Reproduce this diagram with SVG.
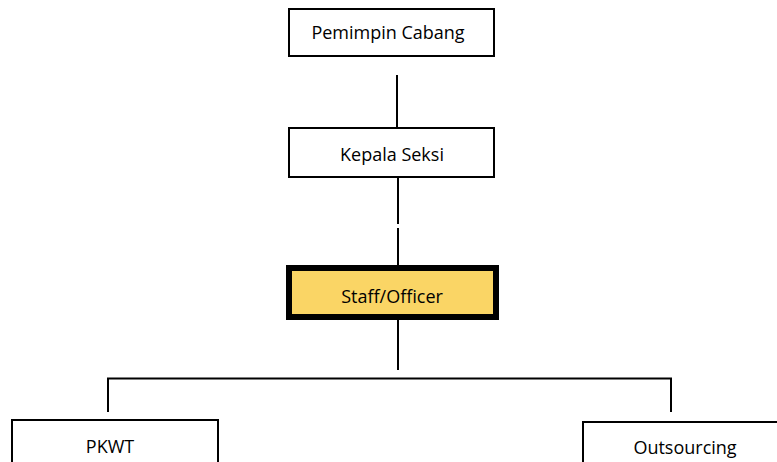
<svg xmlns="http://www.w3.org/2000/svg" width="777" height="462" viewBox="0 0 777 462">
<style>
.box{fill:#fff;stroke:#000;stroke-width:2}
.hl{fill:#FAD565;stroke:#000;stroke-width:6}
.t{font-family:"Open Sans","Liberation Sans",sans-serif;font-size:18px;fill:#000;text-anchor:middle}
.c{stroke:#000;stroke-width:2;fill:none}
</style>
<rect width="777" height="462" fill="#fff"/>
<g id="connectors">
<line class="c" x1="397" y1="75" x2="397" y2="128"/>
<line class="c" x1="398" y1="177" x2="398" y2="224"/>
<line class="c" x1="398" y1="228" x2="398" y2="265"/>
<line class="c" x1="398" y1="320" x2="398" y2="370"/>
<polyline class="c" points="108,412 108,378.5 671,378.5 671,412"/>
</g>
<g id="pemimpin">
<rect class="box" x="289" y="9" width="205" height="47"/>
<text class="t" x="388" y="39">Pemimpin Cabang</text>
</g>
<g id="kepala">
<rect class="box" x="289" y="128" width="205" height="49"/>
<text class="t" x="392" y="161">Kepala Seksi</text>
</g>
<g id="staff">
<rect class="hl" x="289" y="268" width="207" height="49"/>
<text class="t" x="392" y="303">Staff/Officer</text>
</g>
<g id="pkwt">
<rect class="box" x="12" y="420" width="206" height="50"/>
<text class="t" x="110" y="453">PKWT</text>
</g>
<g id="outsourcing">
<rect class="box" x="583" y="422" width="206" height="50"/>
<text class="t" x="685" y="454">Outsourcing</text>
</g>
</svg>
